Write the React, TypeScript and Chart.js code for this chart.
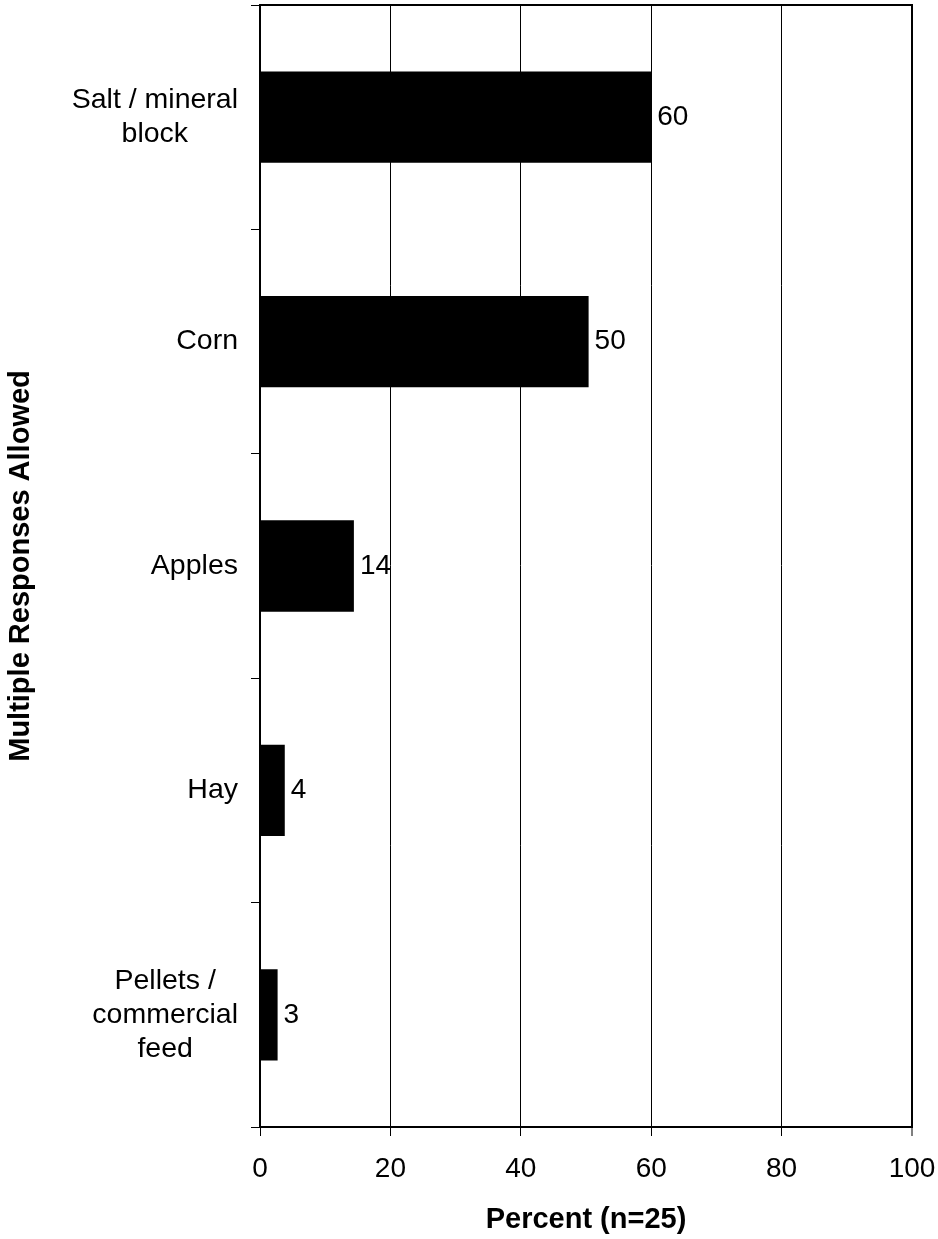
import React, { useEffect, useRef } from "react";
import { Chart, registerables } from "chart.js";

Chart.register(...registerables);

const categories: (string | string[])[] = [
  ["Salt / mineral", "block"],
  "Corn",
  "Apples",
  "Hay",
  ["Pellets /", "commercial", "feed"],
];
const percentValues: number[] = [60, 50.4, 14.4, 3.8, 2.7];
const xTickValues: number[] = [0, 20, 40, 60, 80, 100];
const xAxisTitle = "Percent (n=25)";
const yAxisTitle = "Multiple Responses Allowed";

const FONT = '"Liberation Sans", Arial, Helvetica, sans-serif';

const overlayPlugin = {
  id: "overlay",
  afterDatasetsDraw(chart: any) {
    const { ctx, chartArea } = chart;
    ctx.save();
    ctx.strokeStyle = "#000";
    ctx.lineWidth = 2;
    ctx.beginPath();
    ctx.moveTo(chartArea.left - 1, chartArea.top);
    ctx.lineTo(chartArea.right, chartArea.top);
    ctx.lineTo(chartArea.right, chartArea.bottom);
    ctx.stroke();

    // value labels
    const meta = chart.getDatasetMeta(0);
    ctx.font = `28px ${FONT}`;
    ctx.fillStyle = "#000";
    ctx.textAlign = "left";
    ctx.textBaseline = "middle";
    meta.data.forEach((bar: any, i: number) => {
      ctx.fillText(String(Math.round(percentValues[i])), bar.x + 6, bar.y);
    });

    // category labels: block right-aligned, lines centred within block
    const yScale = chart.scales.y;
    ctx.font = `28.5px ${FONT}`;
    ctx.textAlign = "center";
    const rightEdge = yScale.right - 9 - 13;
    const lh = 34;
    (chart.data.labels as any[]).forEach((lab: any, i: number) => {
      const lines: string[] = Array.isArray(lab) ? lab : [lab];
      const widest = Math.max(...lines.map((l) => ctx.measureText(l).width));
      const cx = rightEdge - widest / 2;
      const yc = yScale.getPixelForTick(i);
      lines.forEach((l, j) => {
        ctx.fillText(l, cx, yc + (j - (lines.length - 1) / 2) * lh);
      });
    });
    ctx.restore();
  },
};

export default function App() {
  const canvasRef = useRef<HTMLCanvasElement | null>(null);

  useEffect(() => {
    document.body.style.margin = "0";
    const canvas = canvasRef.current;
    if (!canvas) return;
    const chart = new Chart(canvas, {
      type: "bar",
      data: {
        labels: categories as any,
        datasets: [
          {
            data: percentValues,
            backgroundColor: "#000",
            borderWidth: 0,
            barPercentage: 0.407,
            categoryPercentage: 1,
          },
        ],
      },
      options: {
        indexAxis: "y",
        animation: false,
        responsive: false,
        devicePixelRatio: 1,
        layout: { padding: { top: 5, right: 26, left: 0, bottom: 0 } },
        plugins: {
          legend: { display: false },
          tooltip: { enabled: false },
        },
        scales: {
          x: {
            type: "linear",
            position: "bottom",
            min: 0,
            max: 100,
            afterBuildTicks: (scale: any) => {
              scale.ticks = xTickValues.map((v) => ({ value: v }));
            },
            afterFit: (scale: any) => {
              scale.height = 112;
              scale.paddingLeft = 0;
              scale.paddingRight = 0;
            },
            ticks: {
              color: "#000",
              font: { family: FONT, size: 28 },
              padding: 16,
              maxRotation: 0,
            },
            grid: {
              color: "#000",
              lineWidth: (ctx: any) => (ctx.tick && ctx.tick.value === 100 ? 2 : 1),
              tickColor: "#000",
              tickLength: 9,
              tickWidth: 1,
            },
            border: { display: true, color: "#000", width: 2 },
            title: {
              display: true,
              text: xAxisTitle,
              color: "#000",
              font: { family: FONT, size: 29, weight: "bold" },
              padding: { top: 0, bottom: 2 },
            },
          },
          y: {
            type: "category",
            position: "left",
            offset: true,
            afterFit: (scale: any) => {
              scale.width = 260;
              scale.paddingTop = 0;
              scale.paddingBottom = 0;
            },
            ticks: {
              display: false,
            },
            grid: {
              display: true,
              offset: true,
              drawOnChartArea: false,
              drawTicks: true,
              tickLength: 9,
              color: "#000",
              tickColor: "#000",
            },
            border: { display: true, color: "#000", width: 2 },
            title: {
              display: true,
              text: yAxisTitle,
              color: "#000",
              font: { family: FONT, size: 29, weight: "bold" },
              padding: { top: 4, bottom: 0 },
            },
          },
        },
      },
      plugins: [overlayPlugin],
    });
    return () => chart.destroy();
  }, []);

  return (
    <div style={{ width: 938, height: 1239, background: "#fff" }}>
      <canvas ref={canvasRef} width={938} height={1239} style={{ display: "block" }} />
    </div>
  );
}
